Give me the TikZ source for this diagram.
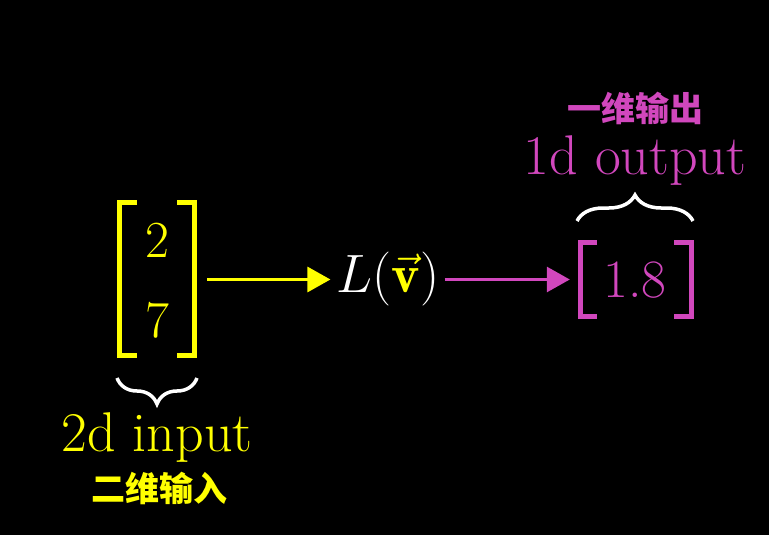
\RequirePackage{fix-cm}
\documentclass[tikz,border=0pt]{standalone}
\usepackage{fontspec}
\newfontfamily\cjk{Noto Sans CJK SC}
\usetikzlibrary{arrows.meta,decorations.pathreplacing}
\definecolor{myyellow}{HTML}{FFFF00}
\definecolor{mypink}{HTML}{D147BD}
\begin{document}
\begin{tikzpicture}[x=1pt,y=-1pt,
  big/.style={font=\fontsize{52}{60}\selectfont, inner sep=0pt},
  lbl/.style={font=\fontsize{56}{64}\selectfont, inner sep=0pt, anchor=base},
  cjklabel/.style={font=\cjk\bfseries\fontsize{34}{40}\selectfont, inner sep=0pt},
  bracketline/.style={line width=5pt, line join=miter},
  conn/.style={line width=3pt, -{Triangle[length=23pt,width=25pt]}},
  bracestyle/.style={white, line width=3.5pt, decorate, decoration={brace, amplitude=26pt}}]
\useasboundingbox (0,0) rectangle (769,535);
\fill[black] (0,0) rectangle (769,535);

% input vector
\node[inner sep=0pt, minimum width=80pt, minimum height=158pt] (vin) at (157,279.5) {};
\draw[bracketline, myyellow] (137,202.5) -- (119.5,202.5) -- (119.5,355.5) -- (137,355.5);
\draw[bracketline, myyellow] (177,202.5) -- (194.5,202.5) -- (194.5,355.5) -- (177,355.5);
\node[big, myyellow] (e1) at (157,240) {2};
\node[big, myyellow] (e2) at (157,320) {7};

% L(v)
\node[inner sep=0pt, white, font=\fontsize{54}{62}\selectfont] (Lv) at (388,279.5)
  {$L(\textcolor{myyellow}{\vec{\mathbf{v}}})$};

% output vector
\node[inner sep=0pt, minimum width=116pt, minimum height=79pt] (vout) at (636,279.5) {};
\draw[bracketline, mypink] (597,242.5) -- (580.5,242.5) -- (580.5,316.5) -- (597,316.5);
\draw[bracketline, mypink] (674,242.5) -- (691.5,242.5) -- (691.5,316.5) -- (674,316.5);
\node[inner sep=0pt, mypink, font=\fontsize{54}{60}\selectfont] (o1) at (635,280) {1.8};

% arrows
\draw[conn, myyellow, shorten <=10pt, shorten >=6pt] (vin.east) -- (Lv.west);
\draw[conn, mypink, shorten <=5pt, shorten >=8pt] (Lv.east) -- (vout.west);

% braces
\coordinate (bi1) at (197,378);
\coordinate (bi2) at (117,378);
\draw[bracestyle] (bi1) -- (bi2);
\coordinate (bo1) at (577,221);
\coordinate (bo2) at (693,221);
\draw[bracestyle] (bo1) -- (bo2);

% labels
\node[lbl, myyellow] (lin) at (157,451) {2d input};
\node[cjklabel, myyellow] (lincn) at (159,488) {二维输入};
\node[lbl, mypink] (lout) at (635,174) {1d output};
\node[cjklabel, mypink] (loutcn) at (635.5,108) {一维输出};
\end{tikzpicture}
\end{document}
